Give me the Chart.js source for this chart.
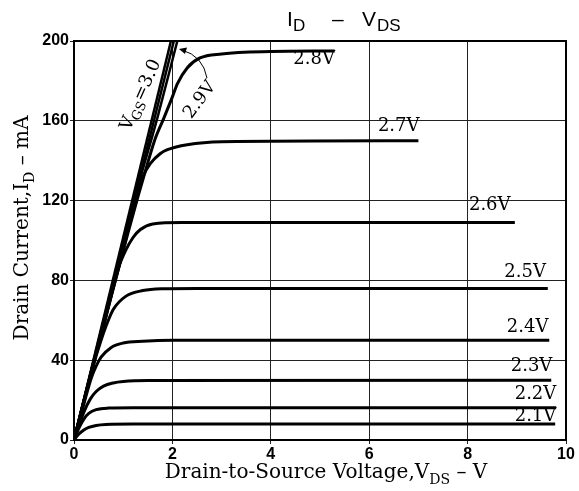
<!DOCTYPE html>
<html>
<head>
<meta charset="utf-8">
<script src="https://cdn.jsdelivr.net/npm/chart.js@4/dist/chart.umd.min.js"></script>
<style>
  html, body { margin: 0; padding: 0; background: #fff; }
</style>
</head>
<body>
<canvas id="chart" width="579" height="491"></canvas>
<script>
// I_D - V_DS curves, [V_DS (V), I_D (mA)]
var vgs21 = [[0,0],[0.1,3],[0.2,5],[0.3,6.3],[0.45,7.3],[0.65,7.8],[1.2,8],[9.78,8]];
var vgs22 = [[0,0],[0.1,6],[0.2,10.5],[0.3,13.3],[0.45,15.2],[0.7,16],[1.2,16.2],[9.8,16.2]];
var vgs23 = [[0,0],[0.2,14],[0.33,20.5],[0.45,24.3],[0.6,27],[0.8,28.6],[1.0,29.3],[1.5,29.8],[9.7,30]];
var vgs24 = [[0,0],[0.2,18],[0.35,31],[0.45,37],[0.55,41.5],[0.75,46.3],[1.0,48.6],[1.4,49.5],[2,50],[9.66,50]];
var vgs25 = [[0,0],[0.2,19.5],[0.4,38],[0.55,50],[0.65,57],[0.8,65.5],[1.05,72],[1.4,74.9],[1.8,75.8],[2.5,76],[9.63,76]];
var vgs26 = [[0,0],[0.4,39],[0.6,57],[0.75,72],[0.9,86],[1.05,95],[1.2,101.5],[1.35,105.5],[1.6,108.3],[2.2,109],[8.96,109]];
var vgs27 = [[0,0],[0.6,58],[1.0,95],[1.2,116],[1.3,125],[1.4,132],[1.55,138.5],[1.75,143.5],[1.9,145.5],[2.3,148],[3.0,149.5],[7.0,150]];
var vgs28 = [[0,0],[1.0,95],[1.3,122],[1.5,139],[1.65,151],[1.82,161],[2.0,172],[2.1,178.5],[2.3,186.5],[2.56,191.5],[3.0,193.5],[4.0,194.7],[5.3,195]];
var vgs29 = [[0,0],[1.2,118],[1.7,162],[2.1,200]];
var vgs30a = [[0,0],[2.03,200]];
var vgs30b = [[0,0],[1.97,200]];

var curves = [vgs21, vgs22, vgs23, vgs24, vgs25, vgs26, vgs27, vgs28, vgs29, vgs30a, vgs30b];

// curve labels: text and where it sits in data units
var labelText = ['2.8V', '2.7V', '2.6V', '2.5V', '2.4V', '2.3V', '2.2V', '2.1V'];
var labelV    = [4.88, 6.6, 8.45, 9.17, 9.22, 9.3, 9.38, 9.38];
var labelI    = [191, 157, 117.5, 84, 56.5, 37, 22.7, 12];

var serif = '"DejaVu Serif", "Liberation Serif", serif';
var sans = '"Liberation Sans", Arial, sans-serif';

function toPoints(arr) {
    return arr.map(function (p) { return { x: p[0], y: p[1] }; });
}

// draw text made of plain and subscript parts
function richText(ctx, parts, x, y, size, family, align) {
    var subSize = Math.round(size * 0.72);
    var w = 0;
    parts.forEach(function (p) {
        ctx.font = (p.sub ? subSize : size) + 'px ' + family;
        p.w = ctx.measureText(p.t).width;
        w += p.w;
    });
    var cx = align === 'center' ? x - w / 2 : x;
    ctx.textAlign = 'left';
    parts.forEach(function (p) {
        ctx.font = (p.sub ? subSize : size) + 'px ' + family;
        ctx.fillText(p.t, cx, p.sub ? y + size * 0.3 : y);
        cx += p.w;
    });
}

var decorations = {
    id: 'decorations',
    afterDraw: function (chart) {
        var ctx = chart.ctx;
        var a = chart.chartArea;
        var xs = chart.scales.x, ys = chart.scales.y;
        ctx.save();
        ctx.strokeStyle = '#000';
        ctx.fillStyle = '#000';
        ctx.lineWidth = 2;
        ctx.strokeRect(a.left, a.top, a.right - a.left, a.bottom - a.top);

        // title
        ctx.textBaseline = 'alphabetic';
        ctx.font = '21px ' + sans;
        ctx.fillText('I', 287, 26);
        ctx.font = '17px ' + sans;
        ctx.fillText('D', 293, 31);
        ctx.font = '21px ' + sans;
        ctx.fillText('\u2013', 332, 26);
        ctx.fillText('V', 362, 26);
        ctx.font = '17px ' + sans;
        ctx.fillText('DS', 377, 31);

        // curve labels
        ctx.textBaseline = 'middle';
        ctx.textAlign = 'center';
        ctx.font = '18px ' + serif;
        for (var i = 0; i < labelText.length; i++) {
            ctx.fillText(labelText[i], xs.getPixelForValue(labelV[i]), ys.getPixelForValue(labelI[i]));
        }

        // VGS = 3.0 rotated
        ctx.save();
        ctx.translate(141, 95);
        ctx.rotate(-66 * Math.PI / 180);
        richText(ctx, [{ t: 'V' }, { t: 'GS', sub: true }, { t: '=3.0' }], 0, 0, 18, serif, 'center');
        ctx.restore();

        // 2.9V rotated
        ctx.save();
        ctx.translate(200, 100);
        ctx.rotate(-53 * Math.PI / 180);
        ctx.textAlign = 'center';
        ctx.font = '18px ' + serif;
        ctx.fillText('2.9V', 0, 0);
        ctx.restore();

        // arrow to the 2.9V line
        ctx.lineWidth = 1;
        ctx.beginPath();
        ctx.moveTo(207, 78);
        ctx.quadraticCurveTo(203, 56, 182, 50);
        ctx.stroke();
        ctx.beginPath();
        ctx.moveTo(179, 49);
        ctx.lineTo(187, 47.5);
        ctx.lineTo(185, 54);
        ctx.closePath();
        ctx.fill();

        // axis titles
        ctx.textBaseline = 'alphabetic';
        richText(ctx, [{ t: 'Drain-to-Source Voltage,V' }, { t: 'DS', sub: true }, { t: ' \u2013 V' }], 326, 478, 20, serif, 'center');
        ctx.save();
        ctx.translate(28, 228);
        ctx.rotate(-Math.PI / 2);
        richText(ctx, [{ t: 'Drain Current,I' }, { t: 'D', sub: true }, { t: ' \u2013 mA' }], 0, 0, 20, serif, 'center');
        ctx.restore();

        ctx.restore();
    }
};

var tickFont = { family: sans, weight: 'bold', size: 16 };

new Chart(document.getElementById('chart'), {
    type: 'line',
    data: {
        datasets: curves.map(function (c, i) {
            return {
                data: toPoints(c),
                borderColor: '#000',
                borderWidth: i >= 8 ? 2.5 : 3,
                pointRadius: 0,
                fill: false,
                cubicInterpolationMode: 'monotone'
            };
        })
    },
    options: {
        responsive: false,
        animation: false,
        layout: { padding: { left: 0, right: 13, top: 41, bottom: 0 } },
        plugins: { legend: { display: false }, tooltip: { enabled: false } },
        scales: {
            x: {
                type: 'linear',
                min: 0,
                max: 10,
                ticks: { stepSize: 2, color: '#000', font: tickFont, padding: 1, maxRotation: 0 },
                grid: { color: '#222', lineWidth: 1, tickLength: 4 },
                border: { color: '#000', width: 2 },
                afterFit: function (s) { s.height = 51; }
            },
            y: {
                type: 'linear',
                min: 0,
                max: 200,
                ticks: { stepSize: 40, color: '#000', font: tickFont, padding: 1 },
                grid: { color: '#222', lineWidth: 1, tickLength: 4 },
                border: { color: '#000', width: 2 },
                afterFit: function (s) { s.width = 74; }
            }
        }
    },
    plugins: [decorations]
});
</script>
</body>
</html>
